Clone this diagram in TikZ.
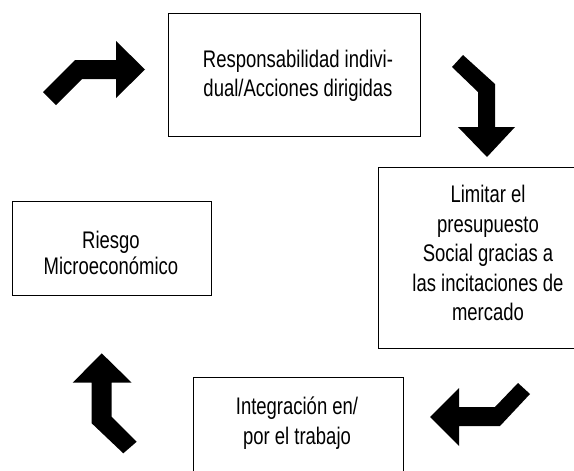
\documentclass[tikz,border=0pt]{standalone}
\usepackage{fontspec}
\newfontfamily\narrowfont[FakeStretch=0.77]{Liberation Sans}
\begin{document}
\begin{tikzpicture}[x=1pt,y=-1pt,
  box/.style={draw=black,line width=0.9pt,inner sep=0pt,anchor=north west},
  txt/.style={align=center,inner sep=0pt,font=\narrowfont\fontsize{24}{29.5}\selectfont},
  bentarrow/.style={fill=black,draw=none}]
\useasboundingbox (0,0) rectangle (574,471);
% boxes
\node[box,minimum width=252pt,minimum height=123pt] (b1) at (168,13) {};
\node[box,minimum width=230pt,minimum height=181pt] (b2) at (378,167) {};
\node[box,minimum width=210pt,minimum height=120pt] (b3) at (193,377) {};
\node[box,minimum width=199pt,minimum height=94pt] (b4) at (12,201) {};
% texts
\node[txt] (t1) at (298,76) {Responsabilidad indivi-\\dual/Acciones dirigidas};
\node[txt] (t2) at (488,253) {Limitar el\\presupuesto\\Social gracias a\\las incitaciones de\\mercado};
\node[txt] (t3) at (297,423) {Integración en/\\por el trabajo};
\node[txt,font=\narrowfont\fontsize{24}{26}\selectfont] (t4) at (111,253) {Riesgo\\Microeconómico};
% bent arrows
\fill[bentarrow] (43,92) -- (75,60) -- (116,60) -- (116,41) -- (145,69.5) -- (116,98) -- (116,79) -- (82,79) -- (56,105) -- cycle;
\fill[bentarrow] (463,55) -- (495,84) -- (495,127) -- (515,127) -- (487,157) -- (458,127) -- (478,127) -- (478,92) -- (452,67) -- cycle;
\fill[bentarrow] (430,417) -- (459,388) -- (459,407) -- (495,407) -- (518,383) -- (530,394) -- (500,426) -- (459,426) -- (459,446) -- cycle;
\fill[bentarrow] (101.7,353.3) -- (131.7,382.7) -- (111.7,382.7) -- (111.7,416.7) -- (136.7,441.7) -- (123.3,453.3) -- (91.7,423.3) -- (91.7,382.7) -- (72.7,382.7) -- cycle;
\end{tikzpicture}
\end{document}
